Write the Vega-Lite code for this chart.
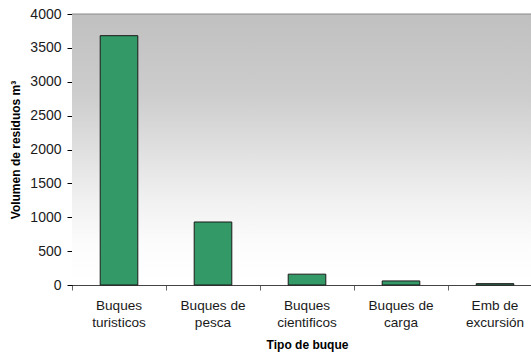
{
  "$schema": "https://vega.github.io/schema/vega-lite/v6.json",
  "autosize": "none",
  "width": 459,
  "height": 271,
  "padding": {"left": 72, "top": 14, "right": 0, "bottom": 69},
  "background": "white",
  "config": {
    "view": {"stroke": null},
    "font": "Liberation Sans"
  },
  "data": {
    "values": [
      {"tipo": "Buques turisticos", "volumen": 3680},
      {"tipo": "Buques de pesca", "volumen": 930},
      {"tipo": "Buques cientificos", "volumen": 160},
      {"tipo": "Buques de carga", "volumen": 60},
      {"tipo": "Emb de excursión", "volumen": 20}
    ]
  },
  "layer": [
    {
      "data": {"values": [{}]},
      "mark": {
        "type": "rect",
        "color": {
          "gradient": "linear",
          "x1": 0, "y1": 0, "x2": 0, "y2": 1,
          "stops": [
            {"offset": 0, "color": "#c0c0c0"},
            {"offset": 0.3, "color": "#cdcdcd"},
            {"offset": 0.68, "color": "#f0f0f0"},
            {"offset": 0.85, "color": "#fcfcfc"},
            {"offset": 1, "color": "#ffffff"}
          ]
        }
      },
      "encoding": {}
    },
    {
      "mark": {"type": "bar", "fill": "#339966", "stroke": "#1a1a1a", "strokeWidth": 1, "width": {"band": 0.4}},
      "encoding": {
        "x": {
          "field": "tipo",
          "type": "nominal",
          "sort": null,
          "scale": {"paddingInner": 0, "paddingOuter": 0, "range": [0, 470]},
          "axis": {
            "title": "Tipo de buque",
            "titleFont": "Liberation Sans",
            "titleFontSize": 12,
            "titleFontWeight": "bold",
            "titleColor": "#000000",
            "titlePadding": 11,
            "labelAngle": 0,
            "labelFont": "Liberation Sans",
            "labelFontSize": 13.6,
            "labelColor": "#1a1a1a",
            "labelLineHeight": 17,
            "labelPadding": 8,
            "labelExpr": "[slice(datum.label, 0, lastindexof(datum.label, ' ')), slice(datum.label, lastindexof(datum.label, ' ') + 1)]",
            "bandPosition": 0,
            "tickSize": 5,
            "tickColor": "#666666",
            "domainColor": "#444444",
            "grid": false
          }
        },
        "y": {
          "field": "volumen",
          "type": "quantitative",
          "scale": {"domain": [0, 4000], "nice": false},
          "axis": {
            "title": "Volumen de residuos m³",
            "titleFont": "Liberation Sans",
            "titleFontSize": 12,
            "titleFontWeight": "bold",
            "titleColor": "#000000",
            "titlePadding": 7,
            "values": [0, 500, 1000, 1500, 2000, 2500, 3000, 3500, 4000],
            "format": "d",
            "labelOverlap": false,
            "labelFont": "Liberation Sans",
            "labelFontSize": 14,
            "labelColor": "#1a1a1a",
            "labelPadding": 6,
            "tickSize": 5,
            "tickColor": "#000000",
            "domainColor": "#000000",
            "grid": false
          }
        }
      }
    },
    {
      "data": {"values": [{}]},
      "mark": {"type": "rule", "color": "#888888", "strokeWidth": 1},
      "encoding": {
        "y": {
          "datum": 4000,
          "type": "quantitative",
          "axis": {
            "title": "Volumen de residuos m³",
            "titleFont": "Liberation Sans",
            "titleFontSize": 12,
            "titleFontWeight": "bold",
            "titleColor": "#000000",
            "titlePadding": 7,
            "values": [0, 500, 1000, 1500, 2000, 2500, 3000, 3500, 4000],
            "format": "d",
            "labelOverlap": false,
            "labelFont": "Liberation Sans",
            "labelFontSize": 14,
            "labelColor": "#1a1a1a",
            "labelPadding": 6,
            "tickSize": 5,
            "tickColor": "#000000",
            "domainColor": "#000000",
            "grid": false
          }
        }
      }
    }
  ]
}
